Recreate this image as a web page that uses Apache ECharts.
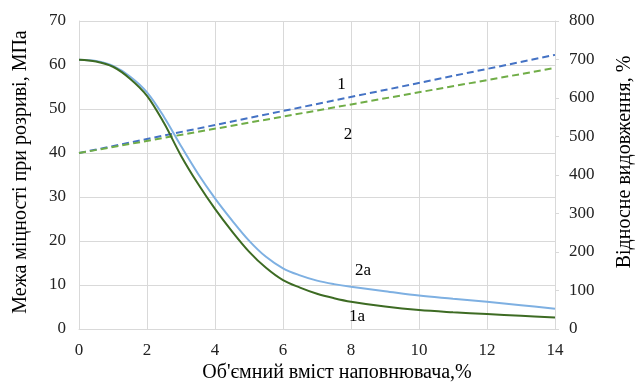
<!DOCTYPE html>
<html><head><meta charset="utf-8">
<script src="https://cdn.jsdelivr.net/npm/echarts@6/dist/echarts.min.js"></script>
<style>html,body{margin:0;padding:0;background:#fff}#c{width:635px;height:383px}</style>
</head><body><div id="c"></div>
<script>
// Strength curves (left axis, MPa)
const xStrength = [0,0.5,1,1.5,2,2.5,3,3.5,4,4.5,5,5.5,6,6.5,7,7.5,8,9,10,11,12,13,14];
const strength2a = [61.2,60.9,59.8,57.4,53.8,48.2,41.6,35.3,29.7,24.7,20.1,16.4,13.8,12.2,11.0,10.2,9.6,8.6,7.6,6.9,6.2,5.4,4.6];
const strength1a = [61.2,60.8,59.6,56.9,53.0,46.8,39.4,33.0,27.3,22.2,17.6,13.9,11.1,9.4,8.0,7.0,6.2,5.1,4.3,3.8,3.4,3.0,2.6];
// Elongation lines (right axis, %)
const xElong = [0,14];
const elong1 = [457,712];
const elong2 = [457,678];
const FONT = 'Liberation Serif';

const zip = (xs, ys) => xs.map((x,i)=>[x, ys[i]]);
const chart = echarts.init(document.getElementById('c'), null, {renderer:'canvas'});
const mp = (text, x, y) => ({data:[{coord:[x,y], symbolSize:0,
  label:{show:true, position:'inside', formatter:text, fontFamily:FONT, fontSize:17, color:'#000'}}]});
chart.setOption({
  animation:false,
  grid:{left:79, right:80, top:21, bottom:54},
  xAxis:{type:'value', min:0, max:14, interval:2,
    axisLine:{show:true, lineStyle:{color:'#d9d9d9', width:1}}, axisTick:{show:false},
    axisLabel:{fontFamily:FONT, fontSize:17, color:'#222', margin:13},
    splitLine:{show:true, lineStyle:{color:'#d9d9d9'}}},
  yAxis:[
    {type:'value', min:0, max:70, interval:10, position:'left',
     axisLine:{show:true, lineStyle:{color:'#d9d9d9'}}, axisTick:{show:false},
     axisLabel:{fontFamily:FONT, fontSize:17, color:'#222', margin:13},
     splitLine:{show:true, lineStyle:{color:'#d9d9d9'}}},
    {type:'value', min:0, max:800, interval:100, position:'right',
     axisLine:{show:true, lineStyle:{color:'#d9d9d9'}}, axisTick:{show:true, length:4, lineStyle:{color:'#d9d9d9'}},
     axisLabel:{fontFamily:FONT, fontSize:17, color:'#222', margin:14},
     splitLine:{show:false}}
  ],
  series:[
    {type:'line', name:'1', yAxisIndex:1, data:zip(xElong, elong1), showSymbol:false,
     lineStyle:{color:'#4472C4', width:2, type:[7,4]}, markPoint:mp('1', 7.72, 634)},
    {type:'line', name:'2', yAxisIndex:1, data:zip(xElong, elong2), showSymbol:false,
     lineStyle:{color:'#70AD47', width:2, type:[7,4]}, markPoint:mp('2', 7.91, 504)},
    {type:'line', name:'2a', yAxisIndex:0, data:zip(xStrength, strength2a), showSymbol:false, smooth:0.35,
     lineStyle:{color:'#7EB0E2', width:2}, markPoint:mp('2a', 8.35, 13.3)},
    {type:'line', name:'1a', yAxisIndex:0, data:zip(xStrength, strength1a), showSymbol:false, smooth:0.35,
     lineStyle:{color:'#3D6B23', width:2}, markPoint:mp('1a', 8.18, 2.9)}
  ],
  graphic:[
    {type:'text', x:337, y:373, style:{text:"Об'ємний вміст наповнювача,%", fontFamily:FONT, fontSize:20, fill:'#000', align:'center', verticalAlign:'middle'}},
    {type:'text', x:21, y:172, rotation:Math.PI/2, style:{text:'Межа міцності при розриві, МПа', fontFamily:FONT, fontSize:20, fill:'#000', align:'center', verticalAlign:'middle'}},
    {type:'text', x:625, y:162, rotation:Math.PI/2, style:{text:'Відносне видовження, %', fontFamily:FONT, fontSize:20, fill:'#000', align:'center', verticalAlign:'middle'}}
  ]
});
</script></body></html>
